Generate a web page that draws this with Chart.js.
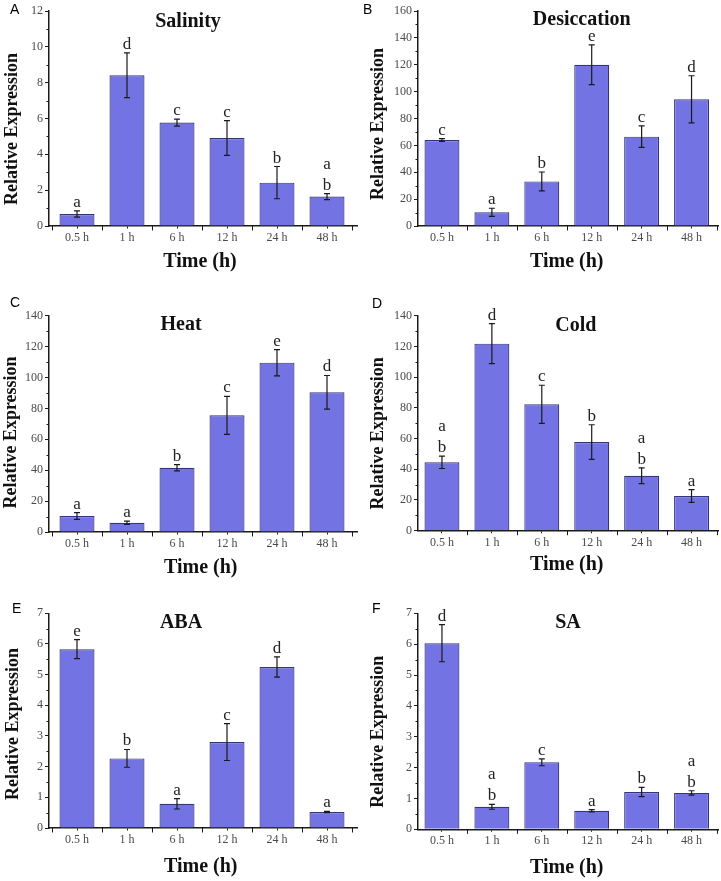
<!DOCTYPE html>
<html><head><meta charset="utf-8">
<script src="https://cdn.jsdelivr.net/npm/chart.js@4.4.1/dist/chart.umd.min.js"></script>
<style>
body{margin:0;background:#fff}
#wrap{position:relative;width:721px;height:881px;overflow:hidden}
canvas{position:absolute}
</style>
</head><body><div id="wrap">
<canvas id="cA" width="360" height="290" style="left:0px;top:0px"></canvas>
<canvas id="cB" width="361" height="290" style="left:360px;top:0px"></canvas>
<canvas id="cC" width="360" height="300" style="left:0px;top:290px"></canvas>
<canvas id="cD" width="361" height="300" style="left:360px;top:290px"></canvas>
<canvas id="cE" width="360" height="291" style="left:0px;top:590px"></canvas>
<canvas id="cF" width="361" height="291" style="left:360px;top:590px"></canvas>
</div>
<script>
// ---- data ----
const timeLabels = ['0.5 h', '1 h', '6 h', '12 h', '24 h', '48 h'];

const salinityMean = [0.67, 8.41, 5.77, 4.91, 2.42, 1.64];
const salinityErr = [0.17, 1.25, 0.20, 0.97, 0.90, 0.17];
const salinityLetters = ['a', 'd', 'c', 'c', 'b', 'a\nb'];

const desiccationMean = [64, 10.2, 33.2, 120, 66.5, 94.3];
const desiccationErr = [1, 3, 7, 14.8, 8, 17.5];
const desiccationLetters = ['c', 'a', 'b', 'e', 'c', 'd'];

const heatMean = [10.4, 6.0, 41.6, 75.5, 109.6, 90.4];
const heatErr = [2.2, 1.1, 2.0, 12.3, 8.5, 10.9];
const heatLetters = ['a', 'a', 'b', 'c', 'e', 'd'];

const coldMean = [44.5, 121.8, 82.3, 57.7, 35.8, 22.6];
const coldErr = [4, 13, 12.4, 11.3, 5.1, 4.2];
const coldLetters = ['a\nb', 'd', 'c', 'b', 'a\nb', 'a'];

const abaMean = [5.83, 2.27, 0.79, 2.80, 5.25, 0.52];
const abaErr = [0.31, 0.29, 0.17, 0.60, 0.33, 0.02];
const abaLetters = ['e', 'b', 'a', 'c', 'd', 'a'];

const saMean = [6.03, 0.73, 2.17, 0.60, 1.21, 1.18];
const saErr = [0.60, 0.08, 0.11, 0.04, 0.15, 0.07];
const saLetters = ['d', 'a\nb', 'c', 'a', 'b', 'a\nb'];

// ---- layout / style ----
const BAR_FILL = '#7373E3';
const BAR_EDGE = '#34347a';
const INK = '#1a1a1a';

const panelPlugin = {
  id: 'panelExtras',
  afterDatasetsDraw(chart) {
    const o = chart.options.plugins.panelExtras;
    const ctx = chart.ctx;
    const ys = chart.scales.y, xs = chart.scales.x;
    const meta = chart.getDatasetMeta(0);
    ctx.save();
    // error bars
    ctx.strokeStyle = INK;
    ctx.lineWidth = 1.2;
    meta.data.forEach((bar, i) => {
      const m = o.mean[i], e = o.err[i];
      const yt = ys.getPixelForValue(m + e), yb = ys.getPixelForValue(m - e);
      const x = bar.x;
      ctx.beginPath();
      ctx.moveTo(x, yt); ctx.lineTo(x, yb);
      ctx.moveTo(x - 3, yt); ctx.lineTo(x + 3, yt);
      ctx.moveTo(x - 3, yb); ctx.lineTo(x + 3, yb);
      ctx.stroke();
      // letters
      const lines = o.letters[i].split('\n');
      ctx.fillStyle = '#222';
      ctx.font = '17px "Liberation Serif", "Times New Roman", serif';
      ctx.textAlign = 'center';
      ctx.textBaseline = 'alphabetic';
      let base = yt - 4;
      for (let k = lines.length - 1; k >= 0; k--) {
        ctx.fillText(lines[k], x, base);
        base -= 21;
      }
    });
    // minor ticks y
    ctx.strokeStyle = INK;
    ctx.lineWidth = 1;
    const ax = chart.chartArea.left;
    for (let v = o.minorY; v < ys.max; v += o.minorY * 2) {
      const py = Math.round(ys.getPixelForValue(v)) + 0.5;
      ctx.beginPath(); ctx.moveTo(ax - 2.5, py); ctx.lineTo(ax, py); ctx.stroke();
    }
    // boundary ticks x
    const by = chart.chartArea.bottom;
    for (let v = 0.5; v <= 6.5; v += 1) {
      if (v < xs.min || v > xs.max) continue;
      const px = Math.round(xs.getPixelForValue(v)) + 0.5;
      ctx.beginPath(); ctx.moveTo(px, by); ctx.lineTo(px, by + 4.5); ctx.stroke();
    }
    // texts
    ctx.fillStyle = '#111';
    ctx.textAlign = 'center';
    ctx.textBaseline = 'alphabetic';
    ctx.font = 'bold 20px "Liberation Serif", "Times New Roman", serif';
    ctx.fillText(o.title, o.titleX, o.titleY);
    ctx.fillText('Time (h)', o.xtX, o.xtY);
    ctx.save();
    ctx.translate(o.ytX, o.ytY);
    ctx.rotate(-Math.PI / 2);
    ctx.textBaseline = 'middle';
    ctx.font = 'bold 18px "Liberation Serif", "Times New Roman", serif';
    ctx.fillText('Relative Expression', 0, 0);
    ctx.restore();
    ctx.textAlign = 'left';
    ctx.font = '14px "Liberation Sans", Arial, sans-serif';
    ctx.fillStyle = '#000';
    ctx.fillText(o.tag, o.tagX, o.tagY);
    ctx.restore();
  }
};

function makePanel(id, p) {
  const cv = document.getElementById(id);
  const W = cv.width, H = cv.height;
  return new Chart(cv, {
    type: 'bar',
    data: {
      datasets: [{
        data: p.mean.map((v, i) => ({ x: i + 1, y: v })),
        backgroundColor: BAR_FILL,
        borderColor: BAR_EDGE,
        borderWidth: 1.2,
        barPercentage: 0.7,
        categoryPercentage: 1.0
      }]
    },
    options: {
      responsive: false,
      animation: false,
      events: [],
      layout: { padding: { left: 0, top: p.T, right: W - p.R, bottom: 0 } },
      plugins: {
        legend: { display: false },
        tooltip: { enabled: false },
        panelExtras: p
      },
      scales: {
        x: {
          type: 'linear',
          offset: false,
          min: p.xmin, max: p.xmax,
          afterBuildTicks: s => { s.ticks = timeLabels.map((_, i) => ({ value: i + 1 })); },
          afterFit: s => { s.height = H - p.B; },
          ticks: {
            autoSkip: false, maxRotation: 0, padding: 2,
            color: '#4a4a4a',
            font: { family: '"Liberation Serif", "Times New Roman", serif', size: 12 },
            callback: v => timeLabels[Math.round(v) - 1] || ''
          },
          grid: { drawOnChartArea: false, offset: false, tickLength: 2.5, tickColor: INK, tickWidth: 1 },
          border: { color: INK, width: 1.5 }
        },
        y: {
          min: 0, max: p.ymax,
          afterFit: s => { s.width = p.L; },
          ticks: {
            stepSize: p.step, padding: 2,
            color: '#4a4a4a',
            font: { family: '"Liberation Serif", "Times New Roman", serif', size: 12 }
          },
          grid: { drawOnChartArea: false, tickLength: 4, tickColor: INK, tickWidth: 1 },
          border: { color: INK, width: 1.5 }
        }
      }
    },
    plugins: [panelPlugin]
  });
}

const LEFT_X = { L: 49, R: 357, xmin: 0.44, xmax: 6.6 };
const RIGHT_X = { L: 58, R: 358, xmin: 0.52, xmax: 6.53 };

makePanel('cA', Object.assign({}, LEFT_X, {
  T: 11, B: 226, ymax: 12, step: 2, minorY: 1,
  mean: salinityMean, err: salinityErr, letters: salinityLetters,
  title: 'Salinity', titleX: 188, titleY: 26.5,
  xtX: 200, xtY: 267, ytX: 12.5, ytY: 129, tag: 'A', tagX: 10, tagY: 14
}));
makePanel('cB', Object.assign({}, RIGHT_X, {
  T: 11, B: 226, ymax: 160, step: 20, minorY: 10,
  mean: desiccationMean, err: desiccationErr, letters: desiccationLetters,
  title: 'Desiccation', titleX: 221.7, titleY: 24.5,
  xtX: 206.7, xtY: 267, ytX: 18, ytY: 124, tag: 'B', tagX: 3, tagY: 14
}));
makePanel('cC', Object.assign({}, LEFT_X, {
  T: 25.7, B: 242, ymax: 140, step: 20, minorY: 10,
  mean: heatMean, err: heatErr, letters: heatLetters,
  title: 'Heat', titleX: 181, titleY: 40,
  xtX: 200.7, xtY: 282.7, ytX: 11, ytY: 142.5, tag: 'C', tagX: 10, tagY: 17
}));
makePanel('cD', Object.assign({}, RIGHT_X, {
  T: 25.7, B: 240.7, ymax: 140, step: 20, minorY: 10,
  mean: coldMean, err: coldErr, letters: coldLetters,
  title: 'Cold', titleX: 215.8, titleY: 40.7,
  xtX: 206.7, xtY: 280, ytX: 18, ytY: 143.3, tag: 'D', tagX: 12, tagY: 18
}));
makePanel('cE', Object.assign({}, LEFT_X, {
  T: 23.3, B: 238, ymax: 7, step: 1, minorY: 0.5,
  mean: abaMean, err: abaErr, letters: abaLetters,
  title: 'ABA', titleX: 181, titleY: 38.3,
  xtX: 200.7, xtY: 281.7, ytX: 13, ytY: 134, tag: 'E', tagX: 12, tagY: 23
}));
makePanel('cF', Object.assign({}, RIGHT_X, {
  T: 23.3, B: 239.3, ymax: 7, step: 1, minorY: 0.5,
  mean: saMean, err: saErr, letters: saLetters,
  title: 'SA', titleX: 208, titleY: 38.3,
  xtX: 206.7, xtY: 282.7, ytX: 18, ytY: 141.7, tag: 'F', tagX: 12, tagY: 23
}));
</script>
</body></html>
